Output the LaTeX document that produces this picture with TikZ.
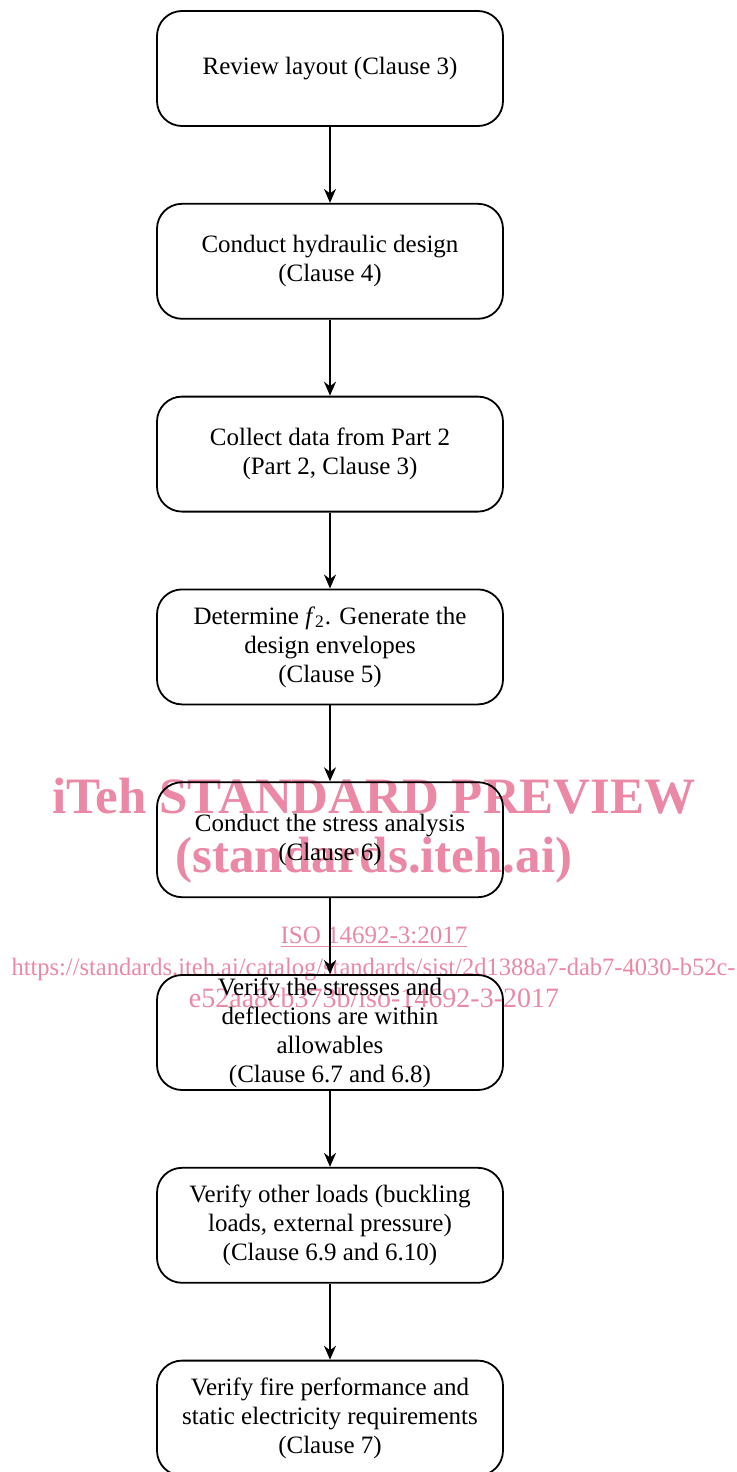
\documentclass[tikz,border=0pt]{standalone}
\usepackage{fontspec}
\setmainfont{Liberation Serif}
\usetikzlibrary{positioning,arrows.meta}
\definecolor{wmpink}{RGB}{234,136,166}

\begin{document}
\begin{tikzpicture}[
            > = {Stealth[length=7pt,width=6pt]}, % arrow head style
            node distance = 38pt, % gap between boxes
            line width = 0.9pt % line style
        ]

        \tikzset{
            stepbox/.style = {
                draw = black,
                rounded corners = 12.5pt,
                minimum width = 173pt,
                minimum height = 57.5pt,
                inner ysep = 0pt,
                align = center,
                font = \fontsize{12.5}{14.5}\selectfont
            },
            watermark/.style = {
                text = wmpink,
                inner sep = 0pt,
                anchor = base
            }
        }

        \useasboundingbox (0,0) rectangle (368.5pt,-736pt);

        % preview stamp, under the chart
        \node[watermark, font=\bfseries\fontsize{25.5}{25.5}\selectfont] (wmtitle) at (187pt,-406.5pt) {iTeh STANDARD PREVIEW};
        \node[watermark, font=\bfseries\fontsize{25.5}{25.5}\selectfont] (wmsite) at (187pt,-436pt) {(standards.iteh.ai)};
        \node[watermark, font=\fontsize{12.5}{12.5}\selectfont] (wmiso) at (187pt,-471.5pt) {\underline{ISO 14692-3:2017}};
        \node[watermark, font=\fontsize{12.5}{12.5}\selectfont, xscale=0.98] (wmurl) at (186.75pt,-487.5pt) {https://standards.iteh.ai/catalog/standards/sist/2d1388a7-dab7-4030-b52c-};
        \node[watermark, font=\fontsize{14}{14}\selectfont] (wmurltail) at (187pt,-503.5pt) {e52aa8cb373b/iso-14692-3-2017};

        \node[stepbox] (layout) at (165pt,-34.25pt) {Review layout (Clause 3)};
        \node[stepbox] (hydr) [below=of layout] {Conduct hydraulic design\\(Clause 4)};
        \node[stepbox] (data) [below=of hydr] {Collect data from Part 2\\(Part 2, Clause 3)};
        \node[stepbox] (env) [below=of data] {Determine \textit{f}\textsubscript{2}. Generate the\\design envelopes\\(Clause 5)};
        \node[stepbox] (stress) [below=of env] {Conduct the stress analysis\\(Clause 6)};
        \node[stepbox] (allow) [below=of stress] {Verify the stresses and\\deflections are within\\allowables\\(Clause 6.7 and 6.8)};
        \node[stepbox] (loads) [below=of allow] {Verify other loads (buckling\\loads, external pressure)\\(Clause 6.9 and 6.10)};
        \node[stepbox] (fire) [below=of loads] {Verify fire performance and\\static electricity requirements\\(Clause 7)};

        \draw[->] (layout) -- (hydr);
        \draw[->] (hydr) -- (data);
        \draw[->] (data) -- (env);
        \draw[->] (env) -- (stress);
        \draw[->] (stress) -- (allow);
        \draw[->] (allow) -- (loads);
        \draw[->] (loads) -- (fire);

    \end{tikzpicture}
\end{document}
